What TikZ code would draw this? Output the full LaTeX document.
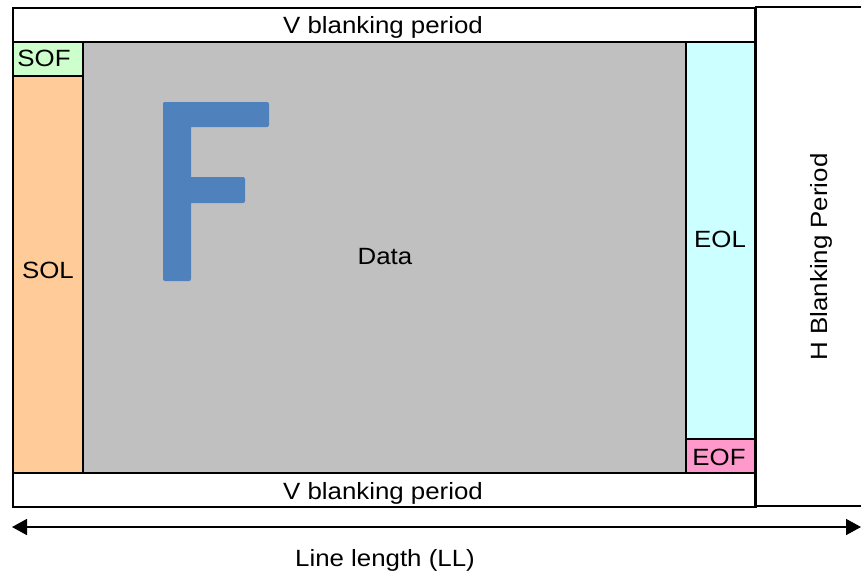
\documentclass[tikz,border=0pt]{standalone}
\usepackage{fontspec}
\setmainfont{Liberation Sans}[FakeStretch=1.1]
\usetikzlibrary{arrows.meta}
\definecolor{sofc}{HTML}{CCFFCC}
\definecolor{solc}{HTML}{FFCC99}
\definecolor{datac}{HTML}{C0C0C0}
\definecolor{eolc}{HTML}{CCFFFF}
\definecolor{eofc}{HTML}{FF99CC}
\definecolor{fblue}{HTML}{4F81BD}
\begin{document}
\begin{tikzpicture}[x=1pt,y=-1pt,
  region/.style={draw=black, line width=1.8pt, inner sep=0pt, anchor=north west},
  lbl/.style={font=\fontsize{23.5}{28}\selectfont, inner sep=0pt, anchor=base},
  fbar/.style={fill=fblue, rounded corners=2pt}]
\useasboundingbox (0,0) rectangle (861,574);
\clip (0,0) rectangle (861,574);
% H blanking area (open to the right)
\draw[line width=1.8pt] (755,7) -- (880,7) (755,506) -- (880,506);
\node[region, minimum width=743pt, minimum height=34pt] (vtop) at (12,7) {};
\node[region, fill=datac, minimum width=603pt, minimum height=431pt] (data) at (82,41) {};
\node[region, fill=sofc, minimum width=70pt, minimum height=34pt] (sof) at (12,41) {};
\node[region, fill=solc, minimum width=70pt, minimum height=397pt] (sol) at (12,75) {};
\node[region, fill=eolc, minimum width=70pt, minimum height=397pt] (eol) at (685,41) {};
\node[region, fill=eofc, minimum width=70pt, minimum height=34pt] (eof) at (685,438) {};
\node[region, minimum width=743pt, minimum height=34pt] (vbot) at (12,472) {};
\draw[line width=1.8pt] (755,7) -- (755,506);
% F
\fill[fbar] (163,102) rectangle (191,281);
\fill[fbar] (163,102) rectangle (269,127);
\fill[fbar] (163,177) rectangle (245,203);
% labels
\node[lbl] (tvtop) at (383,33) {V blanking period};
\node[lbl] (tvbot) at (383,499) {V blanking period};
\node[lbl] (tsof) at (44,66) {SOF};
\node[lbl] (tsol) at (48,278) {SOL};
\node[lbl] (tdata) at (385,264) {Data};
\node[lbl] (teol) at (720,247) {EOL};
\node[lbl] (teof) at (719,465) {EOF};
\node[lbl, rotate=90] (thb) at (827,257) {H Blanking Period};
\node[lbl] (tll) at (385,566) {Line length (LL)};
% arrow
\coordinate (al) at (12,527);
\coordinate (ar) at (861,527);
\draw[line width=1.6pt, {Triangle[length=15pt,width=16pt]}-{Triangle[length=15pt,width=16pt]}] (al) -- (ar);
\end{tikzpicture}
\end{document}
